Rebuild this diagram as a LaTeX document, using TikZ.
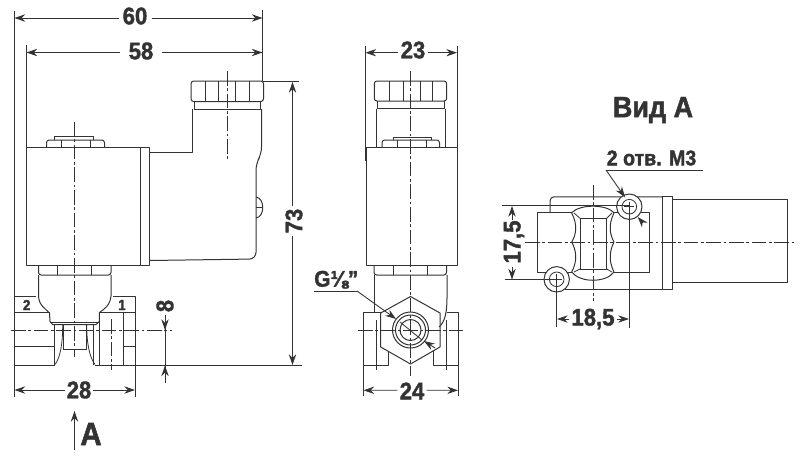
\documentclass[tikz,border=0pt]{standalone}
\usepackage{fontspec}
\setmainfont{Liberation Sans}[FakeStretch=0.92,BoldFeatures={FakeBold=1.6}]
\usetikzlibrary{arrows.meta,calc}
\definecolor{ink}{HTML}{333333}
\tikzset{
	>={Stealth[length=8pt,width=5.5pt]},
	outline/.style={draw=ink, line width=0.75pt, line join=round},
	thinline/.style={draw=ink, line width=0.6pt},
	centerline/.style={draw=ink, line width=0.5pt, dash pattern=on 11pt off 2pt on 2pt off 2pt},
	extline/.style={draw=ink, line width=0.65pt},
	dimline/.style={draw=ink, line width=0.65pt, ->},
	dimlabel/.style={text=ink, font=\fontsize{18}{18}\selectfont\bfseries, inner sep=0pt},
	notelabel/.style={text=ink, font=\fontsize{16}{16}\selectfont\bfseries, inner sep=0pt},
	portlabel/.style={text=ink, font=\fontsize{11}{11}\selectfont\bfseries, inner sep=0pt},
}
\begin{document}
\begin{tikzpicture}[x=0.75pt, y=-0.75pt]
	\useasboundingbox (0,0) rectangle (800,455);

	%% side view, coil and plug
	\draw[outline, rounded corners=2pt] (191,81) rectangle (263.5,101.5);
	\foreach \xrib in {205,218.5,235,249}
		\draw[thinline] (\xrib,81) -- (\xrib,101.5);
	\draw[outline] (194,101.5) -- (194,109) -- (260,109) -- (260,101.5);
	\draw[outline] (192.5,109) -- (192.5,152.5) -- (149.5,152.5);
	\draw[outline, rounded corners=5pt] (261.5,109) -- (261.5,154) -- (256,163.5) -- (256,259) -- (149.5,260.5);
	\draw[outline] (256,197) .. controls (265,198) and (265,217) .. (256,218);
	\draw[thinline] (256,207.5) -- (263,207.5);
	\draw[outline] (26.5,147) rectangle (149.5,265);
	\draw[outline] (140,147) -- (140,265);
	\draw[outline, rounded corners=2pt] (46.5,147) -- (46.5,140) -- (104.5,140) -- (104.5,147);
	\draw[outline] (54.5,140) -- (54.5,136.5) -- (93,136.5) -- (93,140);
	\draw[thinline] (61,140) -- (61,147) (90,140) -- (90,147);

	%% side view, valve body
	\draw[outline, rounded corners=2pt] (38.5,265) -- (38.5,275) -- (111,275) -- (111,265);
	\draw[thinline] (57,265) -- (57,275) (91,265) -- (91,275);
	\draw[outline] (38.5,275) -- (38.5,296) .. controls (39,306) and (46,309) .. (49.5,313) -- (50,321.5) -- (52.7,324.5) -- (96,324.5) -- (99.3,321.5) -- (99.3,312.7) .. controls (104,309) and (110,306) .. (111,296) -- (111,275);
	\draw[thinline] (50,322) -- (99.3,322);
	\draw[outline] (14,296) -- (36,296) (112.5,296.5) -- (135,296.5) -- (135,365);
	\draw[outline] (14,312.5) -- (49.5,312.5) (99.3,312.5) -- (135,312.5);
	\draw[thinline] (14,346.5) -- (54,346.5) (123.5,346.5) -- (135,346.5);
	\draw[outline] (14,365) -- (54,365) -- (54,324.5);
	\draw[outline] (95,365) -- (135,365);
	\draw[outline] (99.3,312.5) -- (99.3,365);
	\draw[thinline] (123.5,312.5) -- (123.5,365) (93.3,324.5) -- (93.3,365);
	\draw[thinline] (62.7,324.5) .. controls (62.7,345) and (60,358) .. (55,364.5);
	\draw[thinline] (86.7,324.5) .. controls (86.7,345) and (90,358) .. (95,364.5);
	\draw[thinline] (63.3,324.5) -- (63.3,349) -- (86.7,349) -- (86.7,324.5);
	\draw[outline, line width=1.1pt] (135.5,326) -- (135.5,365);
	\node[portlabel] (port2) at (26.7,305) {2};
	\node[portlabel] (port1) at (122,305) {1};

	%% side view, center lines
	\draw[centerline] (74.5,122) -- (74.5,357);
	\draw[centerline] (227.5,71) -- (227.5,160);
	\draw[centerline] (11,330) -- (172,330);
	\draw[centerline] (111,319) -- (111,370);

	%% front view
	\draw[outline, rounded corners=2pt] (374.3,81) rectangle (446.7,101);
	\foreach \xrib in {389.3,403,420,432.7}
		\draw[thinline] (\xrib,81) -- (\xrib,101);
	\draw[outline] (377.5,101) -- (377.5,108.5) -- (444.5,108.5) -- (444.5,101);
	\draw[outline] (376,108.5) -- (376,147) (445,108.5) -- (445,147);
	\draw[outline, rounded corners=2pt] (382,147) -- (382,140) -- (439.5,140) -- (439.5,147);
	\draw[outline] (393.5,140) -- (393.5,137) -- (431,137) -- (431,140);
	\draw[thinline] (397,140) -- (397,147) (426,140) -- (426,147);
	\draw[outline] (366,147.3) rectangle (457,265);
	\draw[outline, rounded corners=2pt] (374,265) -- (374,275) -- (446.5,275) -- (446.5,265);
	\draw[thinline] (393,265) -- (393,275) (427,265) -- (427,275);
	\draw[outline] (374,275) -- (374,312);
	\draw[outline] (447,275) -- (447,298) .. controls (447,312) and (445,322) .. (439,327);
	\draw[outline] (410.5,296.5) -- (440,313) -- (440,347) -- (410.5,364) -- (380.7,347) -- (380.7,313) -- cycle;
	\draw[outline] (380.7,312.5) -- (363.3,312.5) -- (363.3,365) -- (388.5,365) -- (388.5,351);
	\draw[outline] (447,312.5) -- (458.3,312.5) -- (458.3,365) -- (433,365) -- (433,351);
	\draw[thinline] (376.5,320) -- (376.5,370) (446.7,320) -- (446.7,370);
	\foreach \rhole in {18,15,10.5}
		\draw[outline] (410.5,330) circle[radius=\rhole];
	\draw[centerline] (410.5,71) -- (410.5,376);
	\draw[centerline] (358,330) -- (463,330);

	%% end view A
	\draw[outline, rounded corners=3pt] (550,213) -- (550,196.8) -- (662.7,196.8);
	\draw[outline] (565,289.3) -- (662.7,289.3);
	\draw[outline] (537.3,212.7) -- (571.7,212.7) (614,212.7) -- (649,212.7) -- (649,272) -- (614,272) (571.7,272) -- (537.3,272) -- (537.3,212.7);
	\draw[outline] (662.7,196.8) rectangle (672.3,289.3);
	\draw[outline] (672.3,199) -- (787.7,199) -- (787.7,282.7) -- (672.3,282.7);
	\draw[outline] (571.7,212.7) .. controls (580,204) and (606,204) .. (614,212.7);
	\draw[outline] (571.7,272) .. controls (580,283) and (606,283) .. (614,272);
	\draw[outline] (571.7,213) .. controls (578,225) and (576,235) .. (571.7,242) .. controls (576,250) and (578,260) .. (571.7,272);
	\draw[outline] (614,213) .. controls (608,225) and (610,235) .. (614,242) .. controls (610,250) and (608,260) .. (614,272);
	\draw[thinline] (580,218.3) rectangle (606.7,269);
	\draw[thinline] (574,213) -- (580,218.3) (612,213) -- (606.7,218.3) (574,272) -- (580,269) (612,272) -- (606.7,269);
	\foreach \xhole/\yhole in {629.3/206.7,556.7/279.3} {
		\draw[outline, fill=white] (\xhole,\yhole) circle[radius=12.7];
		\draw[thinline] (\xhole,\yhole) circle[radius=7.3];
		\draw[thinline] (\xhole-5,\yhole) -- (\xhole+5,\yhole) (\xhole,\yhole-5) -- (\xhole,\yhole+5);
	}
	\draw[centerline] (525,242.3) -- (795,242.3);
	\draw[centerline] (593.3,185) -- (593.3,300.7);

	%% extension lines
	\draw[extline] (14,11) -- (14,397);
	\draw[extline] (262.7,10) -- (262.7,81);
	\draw[extline] (26,45) -- (26,158);
	\draw[extline] (263,81) -- (299,81);
	\draw[extline] (135,365) -- (302,365);
	\draw[extline] (135.5,365) -- (135.5,397);
	\draw[extline] (365.3,46) -- (365.3,161);
	\draw[extline] (457,46) -- (457,147);
	\draw[extline] (363.3,365) -- (363.3,396);
	\draw[extline] (458.3,365) -- (458.3,396);
	\draw[extline] (502,205.7) -- (629,205.7);
	\draw[extline] (505,279.5) -- (556,279.5);
	\draw[extline] (556.7,279) -- (556.7,327);
	\draw[extline] (629.3,206) -- (629.3,328);

	%% dimensions
	\node[dimlabel] (dimsixty) at (135,16) {60};
	\draw[dimline] (dimsixty.west) ++(-3,2) -- (14.5,18);
	\draw[dimline] (dimsixty.east) ++(4,2) -- (262.5,18);
	\node[dimlabel] (dimfiftyeight) at (141,51) {58};
	\draw[dimline] (dimfiftyeight.west) ++(-8,1.5) -- (26.5,52.5);
	\draw[dimline] (dimfiftyeight.east) ++(8,1.5) -- (262.5,52.5);
	\node[dimlabel, rotate=90] (dimseventythree) at (294,221) {73};
	\draw[dimline] (dimseventythree.east) ++(-1.5,-2) -- (292.5,82);
	\draw[dimline] (dimseventythree.west) ++(-1.5,2) -- (292.5,365);
	\node[dimlabel] (dimtwentyeight) at (79,390) {28};
	\draw[dimline] (dimtwentyeight.west) ++(-1,0) -- (14.5,390);
	\draw[dimline] (dimtwentyeight.east) ++(1,0) -- (135,390);
	\node[dimlabel, rotate=90] (dimeight) at (165,306) {8};
	\draw[extline] (165,315) -- (165,383);
	\draw[dimline] (165,315) -- (165,330);
	\draw[dimline] (165,383) -- (165,365.5);
	\node[dimlabel] (dimtwentythree) at (413,50) {23};
	\draw[dimline] (dimtwentythree.west) ++(-2,2.7) -- (365.5,52.7);
	\draw[dimline] (dimtwentythree.east) ++(2,2.7) -- (457,52.7);
	\node[dimlabel] (dimtwentyfour) at (412,391) {24};
	\draw[dimline] (dimtwentyfour.west) ++(-2,-0.7) -- (363.5,390.3);
	\draw[dimline] (dimtwentyfour.east) ++(2,-0.7) -- (458,390.3);
	\node[dimlabel, rotate=90] (dimseventeen) at (514,242) {17,5};
	\draw[dimline] (512,220) -- (512,206);
	\draw[dimline] (512,267) -- (512,279.5);
	\node[dimlabel] (dimeighteen) at (593,319) {18,5};
	\draw[dimline] (569,319) -- (557,319);
	\draw[dimline] (617,319) -- (629,319);

	%% view arrow
	\draw[dimline] (74.5,450) -- (74.5,411);
	\node[dimlabel, font=\fontsize{24}{24}\selectfont\bfseries] (viewmark) at (91,434) {А};

	%% leaders
	\node[notelabel, anchor=south west, font=\fontsize{17}{17}\selectfont\bfseries] (threadlabel) at (314,289) {G⅛"};
	\draw[thinline] (314,291) -- (357,291);
	\draw[dimline] (357,291) -- (396,319);
	\draw[thinline] (400,322) -- (422,340);
	\draw[dimline] (435,348) -- (424,341);
	\node[notelabel] (holelabel) at (651.5,158) {2 отв. М3};
	\draw[thinline] (606,170) -- (702.7,170);
	\draw[dimline] (606,170) -- (625,197.3);
	\draw[dimline] (643,223) -- (637.7,217);

	%% title
	\node[dimlabel, font=\fontsize{22}{22}\selectfont\bfseries] (viewtitle) at (653,110) {Вид А};
\end{tikzpicture}
\end{document}
